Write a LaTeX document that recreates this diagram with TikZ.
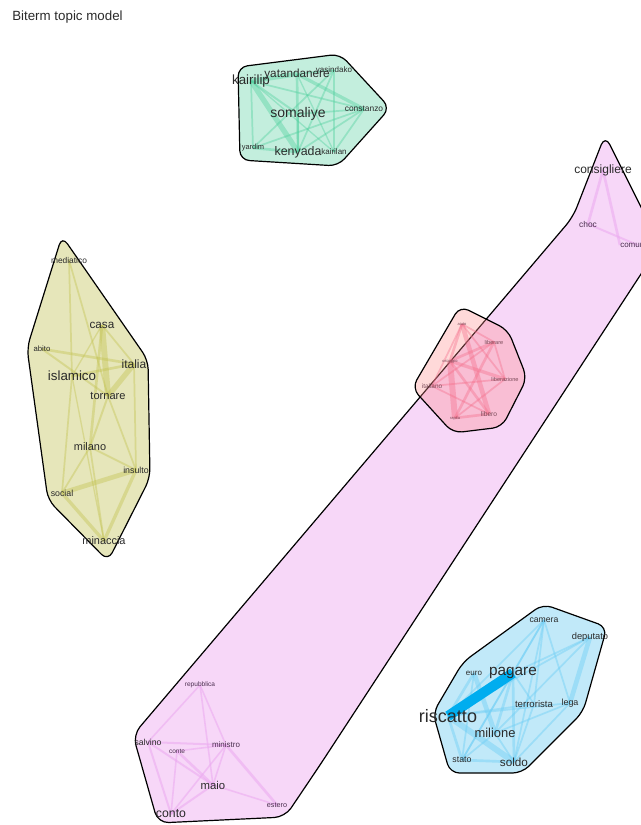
\documentclass[tikz,border=0pt]{standalone}
\usepackage{fontspec}
\setmainfont{Liberation Sans}
\definecolor{greenfill}{HTML}{C3EEDD}
\definecolor{greenedge}{HTML}{4FD09E}
\definecolor{olivefill}{HTML}{E6E6BA}
\definecolor{oliveedge}{HTML}{C2C24E}
\definecolor{pinkfill}{HTML}{F7D7F8}
\definecolor{pinkedge}{HTML}{EBA8F0}
\definecolor{redfill}{HTML}{FF8A8A}
\definecolor{rededge}{HTML}{F5708C}
\definecolor{bluefill}{HTML}{C1E9F9}
\definecolor{blueedge}{HTML}{6FCFF5}
\definecolor{bluedark}{HTML}{00ADEF}
\definecolor{labcol}{HTML}{2A2A2A}
\definecolor{redlab}{HTML}{7A4A58}
\definecolor{pinklab}{HTML}{4A2E4E}
\pgfdeclarelayer{hulls}
\pgfdeclarelayer{edges}
\pgfsetlayers{hulls,edges,main}
\tikzset{
  lab/.style={font=\fontsize{#1}{#1}\selectfont, inner sep=0pt, text=labcol},
  rlab/.style={lab=#1, text=redlab},
  plab/.style={lab=#1, text=pinklab},
  hull/.style={draw=black, line width=0.9pt, rounded corners=7pt},
  gedge/.style={draw=greenedge, opacity=0.4},
  oedge/.style={draw=oliveedge, opacity=0.4},
  pedge/.style={draw=pinkedge, opacity=0.55},
  redge/.style={draw=rededge, opacity=0.4},
  bedge/.style={draw=blueedge, opacity=0.45},
}
\begin{document}
\begin{tikzpicture}[x=0.75pt,y=-0.75pt]
\useasboundingbox (0,0) rectangle (641,825);
\clip (0,0) rectangle (641,825);
\node[lab=10pt, anchor=west] (title) at (12,17) {Biterm topic model};

% green cluster
\node[lab=10pt] (kairilip) at (251,81) {kairilip};
\node[lab=8.8pt] (yatandanere) at (297,74) {yatandanere};
\node[lab=6pt] (yasindako) at (334,70) {yasindako};
\node[lab=6.3pt] (constanzo) at (364,109) {constanzo};
\node[lab=10.5pt] (somaliye) at (298,114) {somaliye};
\node[lab=9.3pt] (kenyada) at (298,152) {kenyada};
\node[lab=6pt] (kairilan) at (334,152) {kairilan};
\node[lab=5.6pt] (yardim) at (253,148) {yardim};

% olive cluster
\node[lab=6.3pt] (mediatico) at (69,260) {mediatico};
\node[lab=8.8pt] (casa) at (102,325) {casa};
\node[lab=5.8pt] (abito) at (42,349) {abito};
\node[lab=9pt] (italia) at (134,364) {italia};
\node[lab=10pt] (islamico) at (72,376) {islamico};
\node[lab=8.3pt] (tornare) at (108,396) {tornare};
\node[lab=8.2pt] (milano) at (90,447) {milano};
\node[lab=6.6pt] (insulto) at (136,470) {insulto};
\node[lab=6.6pt] (social) at (62,493) {social};
\node[lab=8.2pt] (minaccia) at (104,541) {minaccia};

% pink cluster
\node[lab=9pt] (consigliere) at (603,170) {consigliere};
\node[plab=6.3pt] (choc) at (588,224) {choc};
\node[plab=6pt, anchor=west] (comun) at (620,245) {comunale};
\node[plab=4.9pt] (repubblica) at (200,685) {repubblica};
\node[lab=6.5pt] (salvino) at (148,742) {salvino};
\node[plab=4.9pt] (conte) at (177,751) {conte};
\node[plab=6pt] (ministro) at (226,745) {ministro};
\node[lab=8.5pt] (maio) at (213,785) {maio};
\node[plab=5.4pt] (estero) at (277,805) {estero};
\node[lab=9.2pt] (conto) at (171,814) {conto};

% red cluster
\node[rlab=3pt] (rA) at (462,324) {aiuto};
\node[rlab=3pt] (rB) at (450,361) {ostaggio};
\node[rlab=3pt] (rC) at (455,418) {rapita};
\node[rlab=4.8pt] (italiano) at (432,386) {italiano};
\node[rlab=4.2pt] (liberare) at (494,342) {liberare};
\node[rlab=4.2pt] (liberazione) at (505,379) {liberazione};
\node[rlab=5pt] (libero) at (489,414) {libero};

% blue cluster
\node[lab=6.5pt] (camera) at (544,620) {camera};
\node[lab=7pt] (deputato) at (590,637) {deputato};
\node[lab=6pt] (euro) at (474,673) {euro};
\node[lab=11.5pt] (pagare) at (513,673) {pagare};
\node[lab=13.5pt] (riscatto) at (448,716) {riscatto};
\node[lab=7.2pt] (terrorista) at (534,704) {terrorista};
\node[lab=6.7pt] (lega) at (570,703) {lega};
\node[lab=9.7pt] (milione) at (495,733) {milione};
\node[lab=6.6pt] (stato) at (462,760) {stato};
\node[lab=8.8pt] (soldo) at (514,762) {soldo};

\begin{pgfonlayer}{hulls}
  % pink band
  \fill[pinkfill, rounded corners=8pt] (133,735) -- (573,217) -- (605,135) -- (660,245) -- (660,245) -- (320,765) -- (285,817) -- (158,823) -- cycle;
  \draw[hull, rounded corners=8pt] (133,735) -- (573,217) -- (605,135) -- (660,245) -- (320,765) -- (285,817) -- (158,823) -- cycle;
  % green
  \draw[hull, fill=greenfill] (238,67) -- (340,54) -- (390,108) -- (338,166) -- (240,160) -- cycle;
  % olive
  \draw[hull, fill=olivefill] (62,236) -- (148,360) -- (150,478) -- (108,561) -- (48,500) -- (27,348) -- cycle;
  % blue
  \draw[hull, fill=bluefill] (543,604) -- (607,627) -- (583,712) -- (522,773) -- (450,773) -- (433,713) -- (463,662) -- cycle;
  % red
  \fill[redfill, fill opacity=0.32, rounded corners=7pt] (460,306) -- (508,330) -- (527,378) -- (502,427) -- (453,433) -- (412,388) -- cycle;
  \draw[hull] (460,306) -- (508,330) -- (527,378) -- (502,427) -- (453,433) -- (412,388) -- cycle;
\end{pgfonlayer}

\begin{pgfonlayer}{edges}
  \foreach \a/\b/\w in {kairilip/kenyada/4, kairilip/yatandanere/3.5, yatandanere/constanzo/2.5, yatandanere/kenyada/2, somaliye/kenyada/2, kairilip/somaliye/1.5, yasindako/kairilan/1.5, yardim/kenyada/2, kairilip/yardim/1.3, yasindako/yardim/1.3, yasindako/kenyada/1.3, constanzo/kenyada/1.3, constanzo/yardim/1.3, constanzo/kairilan/1.3, kairilip/constanzo/1.3, yatandanere/yasindako/1.3, somaliye/constanzo/1.3, kairilip/kairilan/1, yatandanere/kairilan/1}
    \draw[gedge, line width=\w pt] (\a.center) -- (\b.center);
  \foreach \a/\b/\w in {casa/tornare/4.5, italia/tornare/4, social/insulto/3.5, social/minaccia/2.5, insulto/minaccia/2.5, abito/italia/2, abito/tornare/1.5, islamico/italia/2, mediatico/islamico/1.3, mediatico/tornare/1.3, casa/milano/2, tornare/milano/1.5, milano/minaccia/1.3, islamico/social/1.3, milano/insulto/1.5, italia/insulto/1.3, casa/islamico/1, milano/social/1.3, tornare/insulto/1.3, islamico/minaccia/1, casa/italia/1.3}
    \draw[oedge, line width=\w pt] (\a.center) -- (\b.center);
  \foreach \a/\b/\w in {consigliere/choc/2, choc/comun/1.5, repubblica/salvino/1.2, repubblica/ministro/1.2, repubblica/maio/1.2, salvino/ministro/1.5, salvino/conto/1.5, salvino/maio/1.5, conte/maio/2, conte/conto/1.2, conte/ministro/1.2, ministro/estero/2, ministro/conto/1.2, maio/estero/1.2, maio/conto/1.5, ministro/maio/1.2}
    \draw[pedge, line width=\w pt] (\a.center) -- (\b.center);
  \draw[pedge, line width=2pt] (consigliere.center) -- (comun.west);
  \foreach \a/\b/\w in {rB/rC/4.5, rA/libero/3.5, rA/rB/2, rB/liberare/2, rB/liberazione/2.5, rB/libero/2, italiano/liberare/1.3, liberare/rC/2, italiano/rA/1.3, italiano/libero/1.3, liberazione/rC/1.3, liberare/liberazione/1.3, rA/liberare/1.3, rC/libero/2, italiano/liberazione/1.3, rA/liberazione/1.3}
    \draw[redge, line width=\w pt] (\a.center) -- (\b.center);
  \foreach \a/\b/\w in {riscatto/soldo/4.5, euro/milione/3.5, deputato/lega/3.5, camera/stato/1.3, camera/soldo/1.3, camera/riscatto/1.3, camera/pagare/1.3, camera/terrorista/1.3, camera/lega/1.3, deputato/riscatto/1.3, deputato/pagare/1.3, deputato/milione/1.3, pagare/terrorista/1.3, pagare/soldo/2, pagare/stato/1.3, riscatto/lega/1.3, riscatto/terrorista/1.3, riscatto/stato/2, milione/stato/1.3, stato/soldo/2, milione/lega/1.3, euro/riscatto/2, milione/soldo/1.3, terrorista/soldo/1.3, lega/soldo/1.3, pagare/milione/2, euro/stato/1.3}
    \draw[bedge, line width=\w pt] (\a.center) -- (\b.center);
  \draw[draw=bluedark, line width=7.5pt] (riscatto.center) -- (pagare.center);
\end{pgfonlayer}
\end{tikzpicture}
\end{document}
